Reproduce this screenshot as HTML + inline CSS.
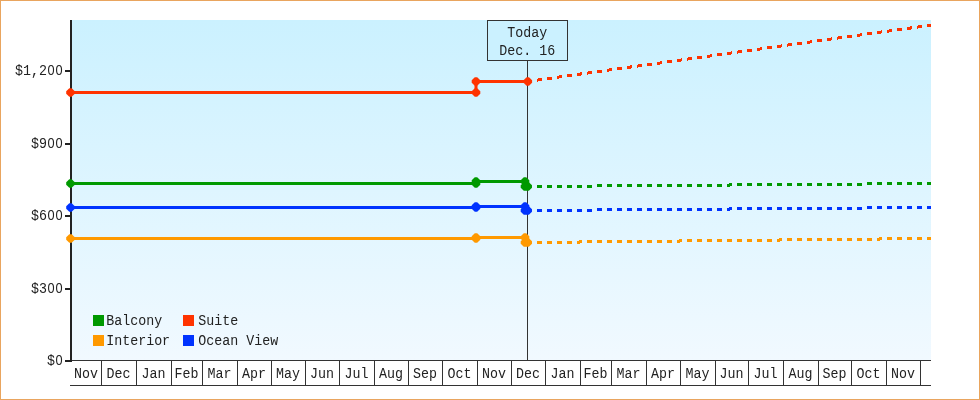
<!DOCTYPE html>
<html lang="en">
<head>
<meta charset="utf-8">
<title>Price chart</title>
<style>
html,body{margin:0;padding:0;background:#fff;}
body{width:980px;height:400px;overflow:hidden;position:relative;}
#frame{position:absolute;left:0;top:0;width:978px;height:398px;border:1px solid #e9a55e;background:#fff;}
svg{position:absolute;left:0;top:0;display:block;}
text{font-family:"Liberation Mono", "DejaVu Sans Mono", monospace;font-size:13.33px;fill:#222;}
.z{font-family:"Liberation Sans", "DejaVu Sans", sans-serif;font-size:12.76px;}
.ln{shape-rendering:crispEdges;}
</style>
</head>
<body>
<div id="frame"></div>
<svg width="980" height="400" viewBox="0 0 980 400">
<defs>
<linearGradient id="bg" x1="0" y1="0" x2="0" y2="1">
<stop offset="0" stop-color="#cbf1ff"/>
<stop offset="1" stop-color="#f1f9ff"/>
</linearGradient>
</defs>
<rect x="72" y="20" width="859" height="340" fill="url(#bg)"/>

<g class="ln" fill="#222">
<rect x="70" y="20" width="2" height="342"/>
<rect x="65" y="70" width="6" height="2"/>
<rect x="65" y="143" width="6" height="2"/>
<rect x="65" y="215" width="6" height="2"/>
<rect x="65" y="288" width="6" height="2"/>
<rect x="65" y="360" width="6" height="2"/>
</g>
<g class="ln" fill="#333">
<rect x="72" y="360" width="859" height="1"/>
<rect x="70" y="385" width="861" height="1"/>
<rect x="101" y="361" width="1" height="24"/>
<rect x="136" y="361" width="1" height="24"/>
<rect x="171" y="361" width="1" height="24"/>
<rect x="202" y="361" width="1" height="24"/>
<rect x="237" y="361" width="1" height="24"/>
<rect x="271" y="361" width="1" height="24"/>
<rect x="305" y="361" width="1" height="24"/>
<rect x="339" y="361" width="1" height="24"/>
<rect x="374" y="361" width="1" height="24"/>
<rect x="408" y="361" width="1" height="24"/>
<rect x="442" y="361" width="1" height="24"/>
<rect x="477" y="361" width="1" height="24"/>
<rect x="511" y="361" width="1" height="24"/>
<rect x="545" y="361" width="1" height="24"/>
<rect x="580" y="361" width="1" height="24"/>
<rect x="611" y="361" width="1" height="24"/>
<rect x="646" y="361" width="1" height="24"/>
<rect x="680" y="361" width="1" height="24"/>
<rect x="715" y="361" width="1" height="24"/>
<rect x="748" y="361" width="1" height="24"/>
<rect x="783" y="361" width="1" height="24"/>
<rect x="818" y="361" width="1" height="24"/>
<rect x="851" y="361" width="1" height="24"/>
<rect x="886" y="361" width="1" height="24"/>
<rect x="920" y="361" width="1" height="24"/>
<rect x="527" y="60" width="1" height="300"/>
</g>
<rect class="ln" x="487.5" y="20.5" width="80" height="40" fill="#cbf1ff" stroke="#333" stroke-width="1"/>
<text transform="translate(0,74.8) scale(1,1.085)" x="15.00 23.00 31.00 39.00 47.45 55.45" y="0">$1,2<tspan class="z">00</tspan></text>
<text transform="translate(0,147.8) scale(1,1.085)" x="31.00 39.00 47.45 55.45" y="0">$9<tspan class="z">00</tspan></text>
<text transform="translate(0,219.8) scale(1,1.085)" x="31.00 39.00 47.45 55.45" y="0">$6<tspan class="z">00</tspan></text>
<text transform="translate(0,292.8) scale(1,1.085)" x="31.00 39.00 47.45 55.45" y="0">$3<tspan class="z">00</tspan></text>
<text transform="translate(0,364.8) scale(1,1.085)" x="47.00 55.45" y="0">$<tspan class="z">0</tspan></text>
<text transform="translate(86.1,377.9) scale(1,1.085)" text-anchor="middle">Nov</text>
<text transform="translate(118.6,377.9) scale(1,1.085)" text-anchor="middle">Dec</text>
<text transform="translate(153.6,377.9) scale(1,1.085)" text-anchor="middle">Jan</text>
<text transform="translate(186.6,377.9) scale(1,1.085)" text-anchor="middle">Feb</text>
<text transform="translate(219.6,377.9) scale(1,1.085)" text-anchor="middle">Mar</text>
<text transform="translate(254.1,377.9) scale(1,1.085)" text-anchor="middle">Apr</text>
<text transform="translate(288.1,377.9) scale(1,1.085)" text-anchor="middle">May</text>
<text transform="translate(322.1,377.9) scale(1,1.085)" text-anchor="middle">Jun</text>
<text transform="translate(356.6,377.9) scale(1,1.085)" text-anchor="middle">Jul</text>
<text transform="translate(391.1,377.9) scale(1,1.085)" text-anchor="middle">Aug</text>
<text transform="translate(425.1,377.9) scale(1,1.085)" text-anchor="middle">Sep</text>
<text transform="translate(459.6,377.9) scale(1,1.085)" text-anchor="middle">Oct</text>
<text transform="translate(494.1,377.9) scale(1,1.085)" text-anchor="middle">Nov</text>
<text transform="translate(528.1,377.9) scale(1,1.085)" text-anchor="middle">Dec</text>
<text transform="translate(562.6,377.9) scale(1,1.085)" text-anchor="middle">Jan</text>
<text transform="translate(595.6,377.9) scale(1,1.085)" text-anchor="middle">Feb</text>
<text transform="translate(628.6,377.9) scale(1,1.085)" text-anchor="middle">Mar</text>
<text transform="translate(663.1,377.9) scale(1,1.085)" text-anchor="middle">Apr</text>
<text transform="translate(697.6,377.9) scale(1,1.085)" text-anchor="middle">May</text>
<text transform="translate(731.6,377.9) scale(1,1.085)" text-anchor="middle">Jun</text>
<text transform="translate(765.6,377.9) scale(1,1.085)" text-anchor="middle">Jul</text>
<text transform="translate(800.6,377.9) scale(1,1.085)" text-anchor="middle">Aug</text>
<text transform="translate(834.6,377.9) scale(1,1.085)" text-anchor="middle">Sep</text>
<text transform="translate(868.6,377.9) scale(1,1.085)" text-anchor="middle">Oct</text>
<text transform="translate(903.1,377.9) scale(1,1.085)" text-anchor="middle">Nov</text>
<text transform="translate(527.3,36.5) scale(1,1.085)" text-anchor="middle">Today</text>
<text transform="translate(527.3,54.7) scale(1,1.085)" text-anchor="middle">Dec. 16</text>
<rect class="ln" x="93" y="315" width="11" height="11" fill="#009900"/>
<text transform="translate(106.2,325.0) scale(1,1.085)">Balcony</text>
<rect class="ln" x="183" y="315" width="11" height="11" fill="#ff3300"/>
<text transform="translate(198.3,325.0) scale(1,1.085)">Suite</text>
<rect class="ln" x="93" y="335" width="11" height="11" fill="#ff9900"/>
<text transform="translate(106.2,345.0) scale(1,1.085)">Interior</text>
<rect class="ln" x="183" y="335" width="11" height="11" fill="#0033ff"/>
<text transform="translate(198.3,345.0) scale(1,1.085)">Ocean View</text>
<g fill="none" stroke="#ff3300" stroke-width="3" stroke-linejoin="round">
<polyline points="70.5,92.5 476.0,92.5 476.0,81.5 527.7,81.5"/>
<path class="ln" d="M537,80.1 L542,79.4 M547,78.7 L552,78.0 M557,77.3 L562,76.6 M567,75.9 L572,75.2 M577,74.5 L582,73.8 M587,73.1 L592,72.4 M597,71.7 L602,71.0 M607,70.3 L612,69.6 M617,68.9 L622,68.2 M627,67.5 L632,66.8 M637,66.1 L642,65.5 M647,64.8 L652,64.1 M657,63.4 L662,62.7 M667,62.0 L672,61.3 M677,60.6 L682,59.9 M687,59.2 L692,58.5 M697,57.8 L702,57.1 M707,56.4 L712,55.7 M717,55.0 L722,54.3 M727,53.6 L732,52.9 M737,52.2 L742,51.5 M747,50.8 L752,50.1 M757,49.4 L762,48.7 M767,48.0 L772,47.3 M777,46.6 L782,45.9 M787,45.2 L792,44.5 M797,43.8 L802,43.1 M807,42.4 L812,41.7 M817,41.0 L822,40.3 M827,39.6 L832,38.9 M837,38.2 L842,37.5 M847,36.8 L852,36.1 M857,35.4 L862,34.7 M867,34.0 L872,33.3 M877,32.6 L882,31.9 M887,31.2 L892,30.6 M897,29.9 L902,29.2 M907,28.5 L912,27.8 M917,27.1 L922,26.4 M927,25.7 L931,25.1"/>
</g>
<g fill="#ff3300">
<polygon transform="translate(70.5,92.5)" points="-4.3,-1.2 -1.2,-4.3 1.2,-4.3 4.3,-1.2 4.3,1.2 1.2,4.3 -1.2,4.3 -4.3,1.2"/>
<polygon transform="translate(476.0,92.5)" points="-4.3,-1.2 -1.2,-4.3 1.2,-4.3 4.3,-1.2 4.3,1.2 1.2,4.3 -1.2,4.3 -4.3,1.2"/>
<polygon transform="translate(476.0,81.5)" points="-4.3,-1.2 -1.2,-4.3 1.2,-4.3 4.3,-1.2 4.3,1.2 1.2,4.3 -1.2,4.3 -4.3,1.2"/>
<polygon transform="translate(527.8,81.5)" points="-4.3,-1.2 -1.2,-4.3 1.2,-4.3 4.3,-1.2 4.3,1.2 1.2,4.3 -1.2,4.3 -4.3,1.2"/>
</g>
<g fill="none" stroke="#009900" stroke-width="3" stroke-linejoin="round">
<polyline points="70.5,183.5 476.0,183.5 476.0,181.5 525.0,181.5 525.0,186.5 527.7,186.5"/>
<path class="ln" d="M537,186.5 L542,186.5 M547,186.5 L552,186.5 M557,186.5 L562,186.5 M567,186.5 L572,186.5 M577,186.5 L582,186.5 M587,186.5 L592,186.5 M597,186.0 L602,185.5 M607,185.5 L612,185.5 M617,185.5 L622,185.5 M627,185.5 L632,185.5 M637,185.5 L642,185.5 M647,185.5 L652,185.5 M657,185.5 L662,185.5 M667,185.5 L672,185.5 M677,185.5 L682,185.5 M687,185.5 L692,185.5 M697,185.5 L702,185.5 M707,185.5 L712,185.5 M717,185.5 L722,185.5 M727,185.5 L732,184.5 M737,184.5 L742,184.5 M747,184.5 L752,184.5 M757,184.5 L762,184.5 M767,184.5 L772,184.5 M777,184.5 L782,184.5 M787,184.5 L792,184.5 M797,184.5 L802,184.5 M807,184.5 L812,184.5 M817,184.5 L822,184.5 M827,184.5 L832,184.5 M837,184.5 L842,184.5 M847,184.5 L852,184.5 M857,184.5 L862,184.5 M867,184.0 L872,183.5 M877,183.5 L882,183.5 M887,183.5 L892,183.5 M897,183.5 L902,183.5 M907,183.5 L912,183.5 M917,183.5 L922,183.5 M927,183.5 L931,183.5"/>
</g>
<g fill="#009900">
<polygon transform="translate(70.5,183.5)" points="-4.3,-1.2 -1.2,-4.3 1.2,-4.3 4.3,-1.2 4.3,1.2 1.2,4.3 -1.2,4.3 -4.3,1.2"/>
<polygon transform="translate(476.0,183.5)" points="-4.3,-1.2 -1.2,-4.3 1.2,-4.3 4.3,-1.2 4.3,1.2 1.2,4.3 -1.2,4.3 -4.3,1.2"/>
<polygon transform="translate(476.0,181.5)" points="-4.3,-1.2 -1.2,-4.3 1.2,-4.3 4.3,-1.2 4.3,1.2 1.2,4.3 -1.2,4.3 -4.3,1.2"/>
<polygon transform="translate(525.0,181.5)" points="-4.3,-1.2 -1.2,-4.3 1.2,-4.3 4.3,-1.2 4.3,1.2 1.2,4.3 -1.2,4.3 -4.3,1.2"/>
<polygon transform="translate(525.0,186.5)" points="-4.3,-1.2 -1.2,-4.3 1.2,-4.3 4.3,-1.2 4.3,1.2 1.2,4.3 -1.2,4.3 -4.3,1.2"/>
<polygon transform="translate(527.7,186.5)" points="-4.3,-1.2 -1.2,-4.3 1.2,-4.3 4.3,-1.2 4.3,1.2 1.2,4.3 -1.2,4.3 -4.3,1.2"/>
</g>
<g fill="none" stroke="#0033ff" stroke-width="3" stroke-linejoin="round">
<polyline points="70.5,207.5 476.0,207.5 476.0,206.5 525.0,206.5 525.0,210.5 527.7,210.5"/>
<path class="ln" d="M537,210.5 L542,210.5 M547,210.5 L552,210.5 M557,210.5 L562,210.5 M567,210.5 L572,210.5 M577,210.5 L582,210.5 M587,210.5 L592,210.5 M597,210.0 L602,209.5 M607,209.5 L612,209.5 M617,209.5 L622,209.5 M627,209.5 L632,209.5 M637,209.5 L642,209.5 M647,209.5 L652,209.5 M657,209.5 L662,209.5 M667,209.5 L672,209.5 M677,209.5 L682,209.5 M687,209.5 L692,209.5 M697,209.5 L702,209.5 M707,209.5 L712,209.5 M717,209.5 L722,209.5 M727,209.5 L732,208.5 M737,208.5 L742,208.5 M747,208.5 L752,208.5 M757,208.5 L762,208.5 M767,208.5 L772,208.5 M777,208.5 L782,208.5 M787,208.5 L792,208.5 M797,208.5 L802,208.5 M807,208.5 L812,208.5 M817,208.5 L822,208.5 M827,208.5 L832,208.5 M837,208.5 L842,208.5 M847,208.5 L852,208.5 M857,208.5 L862,208.5 M867,208.0 L872,207.5 M877,207.5 L882,207.5 M887,207.5 L892,207.5 M897,207.5 L902,207.5 M907,207.5 L912,207.5 M917,207.5 L922,207.5 M927,207.5 L931,207.5"/>
</g>
<g fill="#0033ff">
<polygon transform="translate(70.5,207.5)" points="-4.3,-1.2 -1.2,-4.3 1.2,-4.3 4.3,-1.2 4.3,1.2 1.2,4.3 -1.2,4.3 -4.3,1.2"/>
<polygon transform="translate(476.0,207.5)" points="-4.3,-1.2 -1.2,-4.3 1.2,-4.3 4.3,-1.2 4.3,1.2 1.2,4.3 -1.2,4.3 -4.3,1.2"/>
<polygon transform="translate(476.0,206.5)" points="-4.3,-1.2 -1.2,-4.3 1.2,-4.3 4.3,-1.2 4.3,1.2 1.2,4.3 -1.2,4.3 -4.3,1.2"/>
<polygon transform="translate(525.0,206.5)" points="-4.3,-1.2 -1.2,-4.3 1.2,-4.3 4.3,-1.2 4.3,1.2 1.2,4.3 -1.2,4.3 -4.3,1.2"/>
<polygon transform="translate(525.0,210.5)" points="-4.3,-1.2 -1.2,-4.3 1.2,-4.3 4.3,-1.2 4.3,1.2 1.2,4.3 -1.2,4.3 -4.3,1.2"/>
<polygon transform="translate(527.7,210.5)" points="-4.3,-1.2 -1.2,-4.3 1.2,-4.3 4.3,-1.2 4.3,1.2 1.2,4.3 -1.2,4.3 -4.3,1.2"/>
</g>
<g fill="none" stroke="#ff9900" stroke-width="3" stroke-linejoin="round">
<polyline points="70.5,238.5 476.0,238.5 476.0,237.5 525.0,237.5 525.0,242.5 527.7,242.5"/>
<path class="ln" d="M537,242.5 L542,242.5 M547,242.5 L552,242.5 M557,242.5 L562,242.5 M567,242.5 L572,242.5 M577,242.5 L582,241.5 M587,241.5 L592,241.5 M597,241.5 L602,241.5 M607,241.5 L612,241.5 M617,241.5 L622,241.5 M627,241.5 L632,241.5 M637,241.5 L642,241.5 M647,241.5 L652,241.5 M657,241.5 L662,241.5 M667,241.5 L672,241.5 M677,241.5 L682,240.5 M687,240.5 L692,240.5 M697,240.5 L702,240.5 M707,240.5 L712,240.5 M717,240.5 L722,240.5 M727,240.5 L732,240.5 M737,240.5 L742,240.5 M747,240.5 L752,240.5 M757,240.5 L762,240.5 M767,240.5 L772,240.5 M777,240.5 L782,239.5 M787,239.5 L792,239.5 M797,239.5 L802,239.5 M807,239.5 L812,239.5 M817,239.5 L822,239.5 M827,239.5 L832,239.5 M837,239.5 L842,239.5 M847,239.5 L852,239.5 M857,239.5 L862,239.5 M867,239.5 L872,239.5 M877,239.5 L882,238.5 M887,238.5 L892,238.5 M897,238.5 L902,238.5 M907,238.5 L912,238.5 M917,238.5 L922,238.5 M927,238.5 L931,238.5"/>
</g>
<g fill="#ff9900">
<polygon transform="translate(70.5,238.5)" points="-4.3,-1.2 -1.2,-4.3 1.2,-4.3 4.3,-1.2 4.3,1.2 1.2,4.3 -1.2,4.3 -4.3,1.2"/>
<polygon transform="translate(476.0,238.5)" points="-4.3,-1.2 -1.2,-4.3 1.2,-4.3 4.3,-1.2 4.3,1.2 1.2,4.3 -1.2,4.3 -4.3,1.2"/>
<polygon transform="translate(476.0,237.5)" points="-4.3,-1.2 -1.2,-4.3 1.2,-4.3 4.3,-1.2 4.3,1.2 1.2,4.3 -1.2,4.3 -4.3,1.2"/>
<polygon transform="translate(525.0,237.5)" points="-4.3,-1.2 -1.2,-4.3 1.2,-4.3 4.3,-1.2 4.3,1.2 1.2,4.3 -1.2,4.3 -4.3,1.2"/>
<polygon transform="translate(525.0,242.5)" points="-4.3,-1.2 -1.2,-4.3 1.2,-4.3 4.3,-1.2 4.3,1.2 1.2,4.3 -1.2,4.3 -4.3,1.2"/>
<polygon transform="translate(527.7,242.5)" points="-4.3,-1.2 -1.2,-4.3 1.2,-4.3 4.3,-1.2 4.3,1.2 1.2,4.3 -1.2,4.3 -4.3,1.2"/>
</g>
</svg>
</body>
</html>
